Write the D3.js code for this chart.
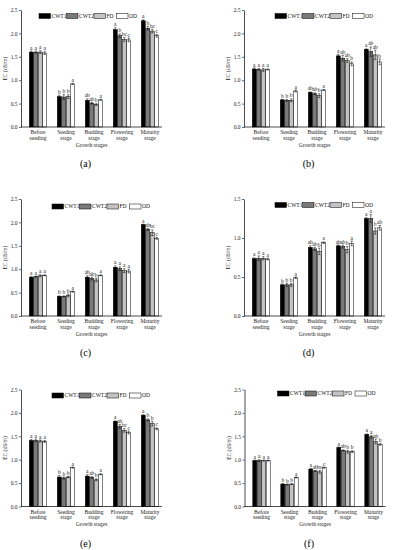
<!DOCTYPE html>
<html><head><meta charset="utf-8">
<script src="https://cdn.jsdelivr.net/npm/d3@7"></script>
<style>body{margin:0;background:#fff}svg{display:block}</style>
</head><body>
<svg id="c" width="398" height="550"></svg>
<script>
const stages = [["Before","seeding"],["Seeding","stage"],["Budding","stage"],["Flowering","stage"],["Maturity","stage"]];
const treatments = ["CWT1","CWT2","FD","OD"];
const colors = ["#000000","#7a7a7a","#c4c4c4","#ffffff"];

// values per stage: [CWT1, CWT2, FD, OD]
const valuesA = [[1.60,1.60,1.60,1.58],[0.65,0.64,0.65,0.92],[0.57,0.51,0.48,0.58],[2.08,1.95,1.87,1.86],[2.27,2.11,2.05,1.95]];
const errorsA = [[0.02,0.02,0.03,0.03],[0.03,0.05,0.04,0.01],[0.03,0.02,0.02,0.01],[0.04,0.04,0.04,0.04],[0.02,0.04,0.04,0.03]];
const lettersA = [["a","a","a","a"],["b","b","b","a"],["ab","ab","b","a"],["a","b","bc","c"],["a","b","bc","c"]];

const valuesB = [[1.24,1.23,1.22,1.23],[0.58,0.57,0.57,0.77],[0.74,0.71,0.67,0.79],[1.52,1.47,1.42,1.35],[1.66,1.61,1.54,1.39]];
const errorsB = [[0.02,0.02,0.03,0.01],[0.01,0.02,0.03,0.02],[0.01,0.02,0.04,0.01],[0.03,0.06,0.04,0.04],[0.01,0.10,0.10,0.06]];
const lettersB = [["a","a","a","a"],["b","b","b","a"],["ab","ab","b","a"],["a","ab","ab","b"],["a","ab","ab","b"]];

const valuesC = [[0.83,0.84,0.86,0.87],[0.42,0.42,0.44,0.52],[0.83,0.80,0.77,0.87],[1.04,1.01,0.97,0.96],[1.95,1.85,1.78,1.66]];
const errorsC = [[0.01,0.01,0.02,0.01],[0.01,0.01,0.03,0.01],[0.03,0.03,0.04,0.01],[0.03,0.04,0.04,0.04],[0.01,0.02,0.06,0.02]];
const lettersC = [["a","a","a","a"],["b","b","b","a"],["ab","ab","b","a"],["a","a","a","a"],["a","ab","bc","c"]];

const valuesD = [[0.735,0.74,0.74,0.73],[0.40,0.40,0.40,0.49],[0.88,0.86,0.83,0.94],[0.90,0.89,0.85,0.93],[1.25,1.25,1.09,1.13]];
const errorsD = [[0.01,0.03,0.02,0.01],[0.01,0.02,0.02,0.01],[0.02,0.02,0.04,0.01],[0.01,0.02,0.04,0.03],[0.01,0.05,0.04,0.03]];
const lettersD = [["a","a","a","a"],["b","b","b","a"],["ab","ab","b","a"],["ab","ab","b","a"],["a","a","b","ab"]];

const valuesE = [[1.41,1.41,1.40,1.39],[0.63,0.61,0.63,0.83],[0.65,0.62,0.57,0.69],[1.82,1.71,1.63,1.58],[1.95,1.85,1.77,1.66]];
const errorsE = [[0.02,0.03,0.02,0.02],[0.03,0.02,0.01,0.01],[0.03,0.02,0.02,0.01],[0.01,0.04,0.04,0.03],[0.01,0.02,0.05,0.02]];
const lettersE = [["a","a","a","a"],["b","b","b","a"],["a","ab","b","a"],["a","ab","bc","c"],["a","b","b","c"]];

const valuesF = [[0.98,0.98,0.98,0.98],[0.48,0.47,0.48,0.62],[0.80,0.76,0.74,0.83],[1.26,1.20,1.17,1.17],[1.54,1.49,1.39,1.33]];
const errorsF = [[0.01,0.02,0.01,0.01],[0.01,0.01,0.01,0.01],[0.01,0.01,0.03,0.01],[0.01,0.01,0.03,0.02],[0.01,0.03,0.05,0.02]];
const lettersF = [["a","a","a","a"],["b","b","b","a"],["a","ab","bc","c"],["a","ab","b","b"],["a","a","ab","b"]];

const yMaxes = [2.5,2.5,2.5,1.5,2.5,2.5];
const captions = ["(a)","(b)","(c)","(d)","(e)","(f)"];
const panels = [
  {v:valuesA,e:errorsA,l:lettersA},{v:valuesB,e:errorsB,l:lettersB},
  {v:valuesC,e:errorsC,l:lettersC},{v:valuesD,e:errorsD,l:lettersD},
  {v:valuesE,e:errorsE,l:lettersE},{v:valuesF,e:errorsF,l:lettersF}
];

// layout
const origins = [[21,10],[244,10],[21,199],[244,199],[21,389.5],[244.5,389.5]];
const legendX = [18,31,31,31,31,33];
const legendY = [6,6,7.5,6,6,4];
const legendOffsets = [0,27.5,55,77.5];
const PH = 117, PW = 141;
const serif = "'Liberation Serif','DejaVu Serif',serif";

const svg = d3.select("#c");

panels.forEach((p,i)=>{
  const g = svg.append("g").attr("transform",`translate(${origins[i][0]},${origins[i][1]})`);
  const y = d3.scaleLinear().domain([0,yMaxes[i]]).range([PH,0]);
  const x0 = d3.scaleBand().domain(d3.range(stages.length)).range([3,143]).paddingInner(0.36).paddingOuter(0.18);
  const x1 = d3.scaleBand().domain(treatments).range([0,x0.bandwidth()]);

  // y axis
  const yAx = g.append("g").call(d3.axisLeft(y).tickValues(d3.range(0,yMaxes[i]+0.001,0.5)).tickFormat(d3.format(".1f")).tickSize(2).tickSizeOuter(0));
  yAx.select(".domain").attr("stroke","#000").attr("stroke-width",0.7);
  yAx.selectAll(".tick line").attr("stroke","#000").attr("stroke-width",0.6);
  yAx.selectAll("text").attr("font-family",serif).attr("font-size",5.5).attr("fill","#222").attr("x",-3.5);

  g.append("text").attr("transform",`translate(-14,${PH/2}) rotate(-90)`).attr("text-anchor","middle")
    .attr("font-family",serif).attr("font-size",5.5).attr("fill","#222").text("EC (dS/m)");

  // bars
  const groups = g.selectAll("g.grp").data(p.v).join("g").attr("class","grp")
    .attr("transform",(d,k)=>`translate(${x0(k)},0)`);
  groups.each(function(vals,k){
    const gg = d3.select(this);
    vals.forEach((v,t)=>{
      const bx = x1(treatments[t]);
      gg.append("rect").attr("x",bx+0.25).attr("y",y(v)).attr("width",x1.bandwidth()-0.5).attr("height",PH-y(v))
        .attr("fill",colors[t]).attr("stroke","#000").attr("stroke-width",0.5);
      const err = p.e[k][t];
      const cx = bx + x1.bandwidth()/2;
      gg.append("line").attr("x1",cx).attr("x2",cx).attr("y1",y(v-err)).attr("y2",y(v+err)).attr("stroke","#000").attr("stroke-width",0.5);
      [v-err,v+err].forEach(yy=>gg.append("line").attr("x1",cx-1.2).attr("x2",cx+1.2).attr("y1",y(yy)).attr("y2",y(yy)).attr("stroke","#000").attr("stroke-width",0.5));
      gg.append("text").attr("x",cx).attr("y",y(v+err)-1.5).attr("text-anchor","middle")
        .attr("font-family",serif).attr("font-size",5.5).attr("fill","#111").text(p.l[k][t]);
    });
  });

  // x axis line
  g.append("line").attr("x1",0).attr("x2",PW).attr("y1",PH).attr("y2",PH).attr("stroke","#000").attr("stroke-width",0.7);
  stages.forEach((s,k)=>{
    const t = g.append("text").attr("text-anchor","middle").attr("font-family",serif).attr("font-size",5.5).attr("fill","#222");
    s.forEach((line,j)=>t.append("tspan").attr("x",x0(k)+x0.bandwidth()/2).attr("y",PH+7+j*5.5).text(line));
  });
  g.append("text").attr("x",PW/2).attr("y",PH+19.5).attr("text-anchor","middle").attr("font-family",serif)
    .attr("font-size",5.5).attr("fill","#222").text("Growth stages");

  // legend
  const lg = g.append("g").attr("transform",`translate(${legendX[i]},${legendY[i]})`);
  treatments.forEach((t,k)=>{
    lg.append("rect").attr("x",legendOffsets[k]).attr("y",-2.5).attr("width",11.5).attr("height",5)
      .attr("fill",colors[k]).attr("stroke","#000").attr("stroke-width",0.5);
    lg.append("text").attr("x",legendOffsets[k]+12.5).attr("y",1.8).attr("font-family",serif).attr("font-size",5.5).attr("fill","#111").text(t);
  });

  // caption
  g.append("text").attr("x",PW/2-6).attr("y",PH+40).attr("text-anchor","middle").attr("font-family",serif)
    .attr("font-size",10).attr("fill","#000").text(captions[i]);
});
</script>
</body></html>
